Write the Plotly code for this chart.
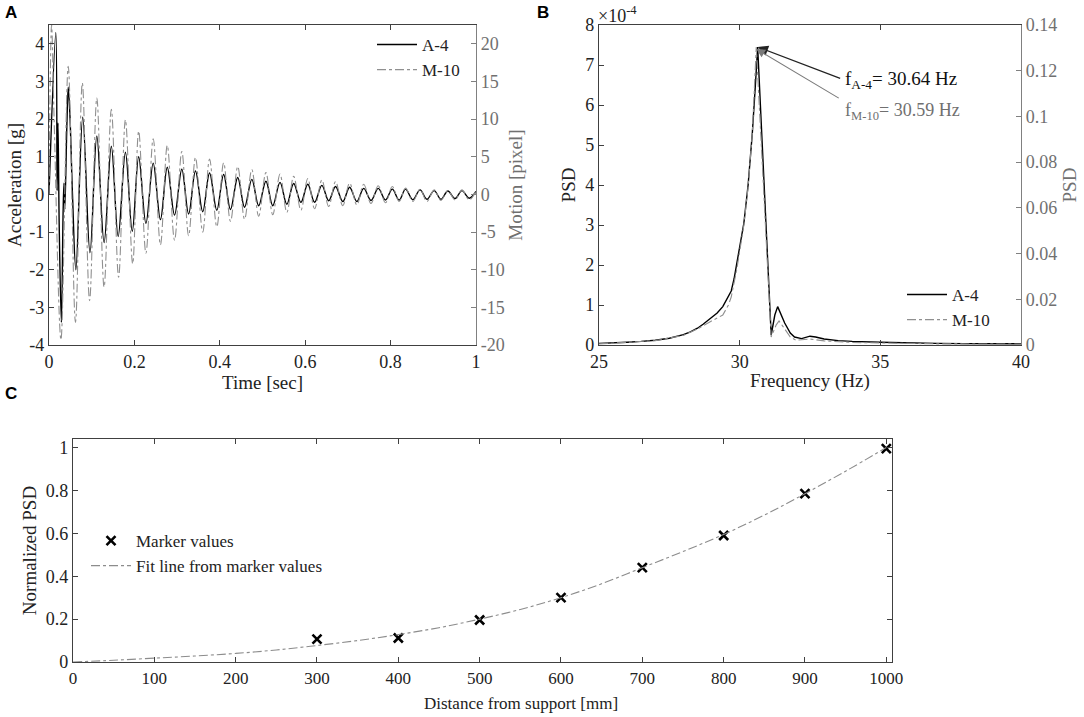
import plotly.graph_objects as go

W, H = 1084, 717

# ---------------- Panel A data (extrema) ----------------
a4_t = [0.000, 0.016, 0.019, 0.021, 0.024, 0.029, 0.033, 0.035, 0.037, 0.042, 0.045, 0.049,
        0.055, 0.063, 0.079, 0.096, 0.112, 0.129, 0.146, 0.162, 0.179, 0.195, 0.210, 0.227,
        0.244, 0.261, 0.277, 0.294, 0.311, 0.327, 0.343, 0.360, 0.376, 0.393, 0.409, 0.425,
        0.442, 0.458, 0.475, 0.491, 0.508, 0.524, 0.541, 0.557, 0.573, 0.590, 0.606, 0.622,
        0.639, 0.655, 0.671, 0.688, 0.704, 0.721, 0.737, 0.754, 0.771, 0.788, 0.804, 0.820,
        0.835, 0.852, 0.869, 0.885, 0.902, 0.918, 0.934, 0.951, 0.967, 0.984, 1.000]
a4_acc = [0.0, 4.3, 0.1, 1.9, -0.9, -3.4, -0.5, 0.3, -0.4, 1.9, 2.85, 2.1,
          0.0, -2.0, 2.05, -1.55, 1.55, -1.28, 1.28, -1.12, 1.12, -0.98, 1.0, -0.77,
          0.83, -0.67, 0.72, -0.55, 0.67, -0.52, 0.62, -0.46, 0.57, -0.42, 0.53, -0.40,
          0.45, -0.34, 0.40, -0.30, 0.35, -0.30, 0.32, -0.26, 0.29, -0.21, 0.27, -0.21,
          0.24, -0.17, 0.21, -0.19, 0.19, -0.19, 0.16, -0.16, 0.16, -0.15, 0.14, -0.15,
          0.14, -0.14, 0.12, -0.13, 0.10, -0.13, 0.09, -0.11, 0.10, -0.10, 0.08]

m10_t = [0.000, 0.006, 0.012, 0.028, 0.045, 0.062, 0.078, 0.095, 0.112, 0.129, 0.146, 0.163,
         0.179, 0.196, 0.210, 0.227, 0.244, 0.261, 0.277, 0.294, 0.311, 0.327, 0.343, 0.360,
         0.376, 0.393, 0.409, 0.425, 0.442, 0.458, 0.475, 0.491, 0.508, 0.524, 0.541, 0.557,
         0.573, 0.590, 0.606, 0.622, 0.639, 0.655, 0.671, 0.688, 0.704, 0.721, 0.737, 0.754,
         0.771, 0.788, 0.804, 0.820, 0.835, 0.852, 0.869, 0.885, 0.902, 0.918, 0.934, 0.951,
         0.967, 0.984, 1.000]
m10_motion = [0.0, 22.5, 10.0, -19.3, 17.0, -17.0, 14.8, -14.1, 12.8, -12.3, 11.3, -11.0,
              9.9, -9.2, 8.4, -7.8, 7.4, -6.7, 6.5, -6.1, 5.7, -5.5, 4.9, -5.0,
              4.7, -4.3, 4.2, -3.6, 3.7, -3.3, 3.3, -2.9, 2.9, -2.7, 2.7, -2.4,
              2.4, -2.1, 2.1, -1.9, 1.9, -1.6, 1.7, -1.5, 1.5, -1.4, 1.35, -1.2,
              1.15, -1.1, 1.05, -0.95, 0.85, -0.95, 0.7, -0.95, 0.6, -0.8, 0.5, -0.75,
              0.6, -0.73, 0.47]

# ---------------- Panel B data ----------------
a4_freq = [25.0, 25.5, 26.0, 26.5, 27.0, 27.5, 28.0, 28.25, 28.5, 28.7, 29.0, 29.2, 29.4,
           29.6, 29.7, 29.8, 29.9, 30.0, 30.15, 30.3, 30.45, 30.55, 30.64, 31.12, 31.25,
           31.35, 31.45, 31.6, 31.8, 31.95, 32.2, 32.5, 32.7, 33.0, 33.5, 34.0, 35.0, 36.0,
           37.0, 38.0, 39.0, 40.0]
a4_psd = [0.04, 0.05, 0.07, 0.09, 0.12, 0.17, 0.26, 0.33, 0.42, 0.52, 0.68, 0.80, 0.96,
          1.2, 1.35, 1.65, 2.05, 2.45, 3.05, 4.0, 5.3, 6.4, 7.45, 0.25, 0.75,
          0.96, 0.8, 0.55, 0.3, 0.2, 0.16, 0.22, 0.2, 0.15, 0.11, 0.09, 0.07, 0.05,
          0.04, 0.035, 0.03, 0.03]  # x 1e-4

m10_freq = [25.0, 26.0, 27.0, 28.0, 28.5, 29.0, 29.2, 29.4, 29.6, 29.7, 29.9, 30.0, 30.15,
            30.3, 30.45, 30.59, 31.12, 31.3, 31.4, 31.55, 31.8, 32.0, 32.5, 33.0, 34.0,
            35.0, 37.0, 40.0]
m10_psd = [0.0005, 0.0011, 0.0019, 0.0042, 0.0070, 0.0105, 0.0119, 0.0131, 0.0175, 0.0210,
           0.0333, 0.0411, 0.0525, 0.0691, 0.0928, 0.1304, 0.0035, 0.0088, 0.0105, 0.0079,
           0.0035, 0.0021, 0.0026, 0.0018, 0.0011, 0.0009, 0.0005, 0.0004]

peak_a4_f, peak_a4_v = 30.64, 7.45
peak_m10_f, peak_m10_v = 30.59, 7.40

# ---------------- Panel C data ----------------
dist_mm = [300, 400, 500, 600, 700, 800, 900, 1000]
norm_psd = [0.107, 0.112, 0.196, 0.30, 0.44, 0.59, 0.785, 0.995]

fit_x = [0, 50, 100, 150, 200, 250, 300, 350, 400, 450, 500, 550, 600, 650, 700, 750,
         800, 850, 900, 950, 1000]
fit_y = [0.0, 0.008, 0.018, 0.028, 0.04, 0.056, 0.077, 0.10, 0.128, 0.16, 0.20, 0.245,
         0.30, 0.365, 0.44, 0.515, 0.595, 0.685, 0.785, 0.89, 1.0]

# tick labels
a_xticks = [0, 0.2, 0.4, 0.6, 0.8, 1]
a_xlabels = ["0", "0.2", "0.4", "0.6", "0.8", "1"]
a_lticks = [-4, -3, -2, -1, 0, 1, 2, 3, 4]
a_llabels = ["-4", "-3", "-2", "-1", "0", "1", "2", "3", "4"]
a_rticks = [-20, -15, -10, -5, 0, 5, 10, 15, 20]
a_rlabels = ["-20", "-15", "-10", "-5", "0", "5", "10", "15", "20"]
b_xticks = [25, 30, 35, 40]
b_lticks = [0, 1, 2, 3, 4, 5, 6, 7, 8]
b_rticks = [0, 0.02, 0.04, 0.06, 0.08, 0.1, 0.12, 0.14]
b_rlabels = ["0", "0.02", "0.04", "0.06", "0.08", "0.1", "0.12", "0.14"]
c_xticks = [0, 100, 200, 300, 400, 500, 600, 700, 800, 900, 1000]
c_yticks = [0, 0.2, 0.4, 0.6, 0.8, 1]
c_ylabels = ["0", "0.2", "0.4", "0.6", "0.8", "1"]

# ---------------- layout geometry ----------------
def px(x):
    return x / W

def py(y):
    return 1 - y / H

FONT = "Liberation Serif"
AX = "#404040"
GR = "#808080"
TXT = "#222222"
GTXT = "#707070"

fig = go.Figure()

# Panel A
fig.add_trace(go.Scatter(x=a4_t, y=a4_acc, mode="lines", name="A-4",
                         line=dict(color="black", width=1.4, shape="spline", smoothing=1.0),
                         xaxis="x", yaxis="y", legend="legend"))
fig.add_trace(go.Scatter(x=m10_t, y=m10_motion, mode="lines", name="M-10",
                         line=dict(color="#909090", width=1.1, dash="dashdot", shape="spline", smoothing=1.0),
                         xaxis="x", yaxis="y2", legend="legend"))
# Panel B
fig.add_trace(go.Scatter(x=a4_freq, y=a4_psd, mode="lines", name="A-4",
                         line=dict(color="black", width=1.4),
                         xaxis="x2", yaxis="y3", legend="legend2"))
fig.add_trace(go.Scatter(x=m10_freq, y=m10_psd, mode="lines", name="M-10",
                         line=dict(color="#909090", width=1.1, dash="dashdot"),
                         xaxis="x2", yaxis="y4", legend="legend2"))
# Panel C
fig.add_trace(go.Scatter(x=dist_mm, y=norm_psd, mode="markers", name="Marker values",
                         marker=dict(symbol="x-thin", size=9, color="black",
                                     line=dict(color="black", width=2.6)),
                         xaxis="x3", yaxis="y5", legend="legend3"))
fig.add_trace(go.Scatter(x=fit_x, y=fit_y, mode="lines", name="Fit line from marker values",
                         line=dict(color="#8c8c8c", width=1.1, dash="dashdot", shape="spline"),
                         xaxis="x3", yaxis="y5", legend="legend3"))

def f(size, color=TXT):
    return dict(family=FONT, size=size, color=color)

common = dict(showgrid=False, zeroline=False, ticks="inside", ticklen=5, tickwidth=1,
              showline=True, linewidth=1.4, automargin=False)

A_dom_x = [px(49), px(476)]
B_dom_x = [px(599), px(1021)]
AB_dom_y = [py(345), py(25)]
C_dom_x = [px(73), px(892)]
C_dom_y = [py(662), py(439)]

fig.update_layout(
    width=W, height=H, margin=dict(l=0, r=0, t=0, b=0, autoexpand=False),
    paper_bgcolor="white", plot_bgcolor="white",
    font=f(16),
    xaxis=dict(domain=A_dom_x, anchor="y", range=[0, 1], tickvals=a_xticks, ticktext=a_xlabels,
               title=dict(text="Time [sec]", font=f(19), standoff=2),
               tickfont=f(18), linecolor=AX, tickcolor=AX, mirror="ticks", **common),
    yaxis=dict(domain=AB_dom_y, anchor="x", range=[-4, 4.5], tickvals=a_lticks, ticktext=a_llabels,
               title=dict(text="Acceleration [g]", font=f(19), standoff=2),
               tickfont=f(18), linecolor=AX, tickcolor=AX, **common),
    yaxis2=dict(overlaying="y", side="right", anchor="x", range=[-20, 22.5],
                tickvals=a_rticks, ticktext=a_rlabels,
                title=dict(text="Motion [pixel]", font=f(19, GTXT), standoff=4),
                tickfont=f(18, GTXT), linecolor=GR, tickcolor=GR, **common),
    xaxis2=dict(domain=B_dom_x, anchor="y3", range=[25, 40], tickvals=b_xticks,
                title=dict(text="Frequency (Hz)", font=f(19), standoff=2),
                tickfont=f(18), linecolor=AX, tickcolor=AX, mirror="ticks", **common),
    yaxis3=dict(domain=AB_dom_y, anchor="x2", range=[0, 8], tickvals=b_lticks,
                title=dict(text="PSD", font=f(19), standoff=4),
                tickfont=f(18), linecolor=AX, tickcolor=AX, **common),
    yaxis4=dict(overlaying="y3", side="right", anchor="x2", range=[0, 0.14],
                tickvals=b_rticks, ticktext=b_rlabels,
                title=dict(text="PSD", font=f(19, GTXT), standoff=6),
                tickfont=f(18, GTXT), linecolor=GR, tickcolor=GR, **common),
    xaxis3=dict(domain=C_dom_x, anchor="y5", range=[0, 1007], tickvals=c_xticks,
                tickfont=f(17), linecolor=AX, tickcolor=AX, mirror="ticks", **common),
    yaxis5=dict(domain=C_dom_y, anchor="x3", range=[0, 1.04], tickvals=c_yticks, ticktext=c_ylabels,
                title=dict(text="Normalized PSD", font=f(19), standoff=4),
                tickfont=f(18), linecolor=AX, tickcolor=AX, mirror="ticks", **common),
    legend=dict(x=px(372), y=py(27), xanchor="left", yanchor="top", bgcolor="rgba(0,0,0,0)",
                font=f(17), itemwidth=40, tracegroupgap=0),
    legend2=dict(x=px(902), y=py(277), xanchor="left", yanchor="top", bgcolor="rgba(0,0,0,0)",
                 font=f(17), itemwidth=40, tracegroupgap=0),
    legend3=dict(x=px(86), y=py(523), xanchor="left", yanchor="top", bgcolor="rgba(0,0,0,0)",
                 font=f(17), itemwidth=40, tracegroupgap=0),
    showlegend=True,
)

annotations = [
    dict(text="<b>A</b>", x=px(3), y=py(12), xref="paper", yref="paper", xanchor="left",
         yanchor="middle", showarrow=False, font=dict(family="Liberation Sans", size=17, color="black")),
    dict(text="<b>B</b>", x=px(535), y=py(12), xref="paper", yref="paper", xanchor="left",
         yanchor="middle", showarrow=False, font=dict(family="Liberation Sans", size=17, color="black")),
    dict(text="<b>C</b>", x=px(3), y=py(393), xref="paper", yref="paper", xanchor="left",
         yanchor="middle", showarrow=False, font=dict(family="Liberation Sans", size=17, color="black")),
    dict(text="\u00d710<sup>-4</sup>", x=px(596), y=py(14), xref="paper", yref="paper", xanchor="left",
         yanchor="middle", showarrow=False, font=f(18)),
    dict(text="Distance from support [mm]", x=px(521), y=py(703), xref="paper", yref="paper",
         xanchor="center", yanchor="middle", showarrow=False, font=f(17)),
    # arrows to peaks
    dict(text="", x=peak_a4_f, y=peak_a4_v, xref="x2", yref="y3", showarrow=True,
         ax=84, ay=32, axref="pixel", ayref="pixel", arrowhead=2, arrowsize=1.6, arrowwidth=1.3,
         arrowcolor="#222", standoff=0),
    dict(text="", x=peak_m10_f, y=peak_m10_v, xref="x2", yref="y3", showarrow=True,
         ax=84, ay=50, axref="pixel", ayref="pixel", arrowhead=2, arrowsize=1.6, arrowwidth=1.1,
         arrowcolor="#7a7a7a", standoff=0),
    dict(text="f<sub>A-4</sub>= 30.64 Hz", x=px(843), y=py(80), xref="paper", yref="paper",
         xanchor="left", yanchor="middle", showarrow=False, font=f(19, "#111")),
    dict(text="f<sub>M-10</sub>= 30.59 Hz", x=px(843), y=py(112), xref="paper", yref="paper",
         xanchor="left", yanchor="middle", showarrow=False, font=f(18, GTXT)),
]
fig.update_layout(annotations=annotations)

fig.write_html("out.html", config={"displayModeBar": False},
               post_script="document.body.style.margin='0';document.body.style.padding='0';")
